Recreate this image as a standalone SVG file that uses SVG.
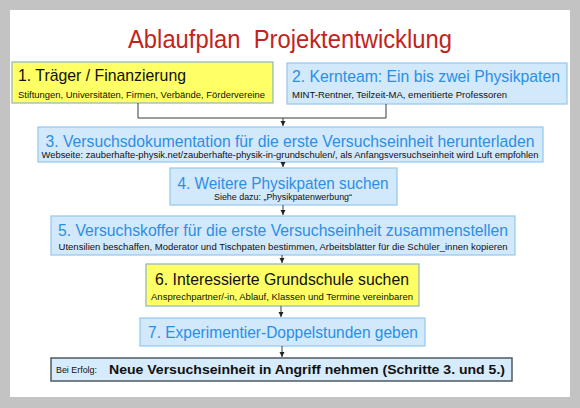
<svg xmlns="http://www.w3.org/2000/svg" width="580" height="408" viewBox="0 0 580 408">
<style>
text{font-family:"Liberation Sans",Arial,sans-serif}
.yb{fill:#ffff66;stroke:#8ab4c4;stroke-width:1.2}
.bb{fill:#d2e8fb;stroke:#93c6ef;stroke-width:1.2}
.tk{font-size:17px;fill:#111}
.tb{font-size:17px;fill:#2b8fe6}
.s{font-size:8.5px;fill:#111}
.c{text-anchor:middle}
.ln{fill:none;stroke:#3a3a3a;stroke-width:1}
</style>
<defs>
<marker id="ah" markerWidth="6" markerHeight="6" refX="5" refY="3" orient="auto" markerUnits="userSpaceOnUse">
<path d="M0,0.5 L5,3 L0,5.5 Z" fill="#222"/>
</marker>
</defs>
<rect x="0" y="0" width="580" height="408" fill="#c3c3c3"/>
<rect x="10" y="10" width="560" height="387" fill="#ffffff"/>
<text id="title" x="290" y="48" class="c" font-size="26" fill="#c4231b" style="white-space:pre" textLength="324" lengthAdjust="spacingAndGlyphs">Ablaufplan  Projektentwicklung</text>
<g id="n1">
<rect class="yb" x="12" y="62" width="261" height="41"/>
<text class="tk" x="18" y="81" textLength="168" lengthAdjust="spacingAndGlyphs">1. Träger / Finanzierung</text>
<text class="s" x="18" y="98" textLength="247" lengthAdjust="spacingAndGlyphs">Stiftungen, Universitäten, Firmen, Verbände, Fördervereine</text>
</g>
<g id="n2">
<rect class="bb" x="287" y="63" width="280" height="41"/>
<text class="tb" x="292" y="82" textLength="268" lengthAdjust="spacingAndGlyphs">2. Kernteam: Ein bis zwei Physikpaten</text>
<text class="s" x="292" y="98" textLength="215" lengthAdjust="spacingAndGlyphs">MINT-Rentner, Teilzeit-MA, emeritierte Professoren</text>
</g>
<g id="n3">
<rect class="bb" x="38" y="127" width="505" height="35"/>
<text class="tb c" x="290" y="147" textLength="489" lengthAdjust="spacingAndGlyphs">3. Versuchsdokumentation für die erste Versuchseinheit herunterladen</text>
<text class="s c" x="290" y="158" font-size="8" textLength="497" lengthAdjust="spacingAndGlyphs">Webseite: zauberhafte-physik.net/zauberhafte-physik-in-grundschulen/, als Anfangsversuchseinheit wird Luft empfohlen</text>
</g>
<g id="n4">
<rect class="bb" x="170" y="168" width="227" height="37"/>
<text class="tb c" x="283" y="189" textLength="211" lengthAdjust="spacingAndGlyphs">4. Weitere Physikpaten suchen</text>
<text class="s c" x="283" y="200" font-size="8" textLength="138" lengthAdjust="spacingAndGlyphs">Siehe dazu: „Physikpatenwerbung“</text>
</g>
<g id="n5">
<rect class="bb" x="51" y="216" width="464" height="39"/>
<text class="tb c" x="283" y="236" textLength="450" lengthAdjust="spacingAndGlyphs">5. Versuchskoffer für die erste Versuchseinheit zusammenstellen</text>
<text class="s c" x="283" y="250" textLength="449" lengthAdjust="spacingAndGlyphs">Utensilien beschaffen, Moderator und Tischpaten bestimmen, Arbeitsblätter für die Schüler_innen kopieren</text>
</g>
<g id="n6">
<rect class="yb" x="146" y="264" width="273" height="42"/>
<text class="tk c" x="282" y="285" textLength="254" lengthAdjust="spacingAndGlyphs">6. Interessierte Grundschule suchen</text>
<text class="s c" x="282" y="300" textLength="262" lengthAdjust="spacingAndGlyphs">Ansprechpartner/-in, Ablauf, Klassen und Termine vereinbaren</text>
</g>
<g id="n7">
<rect class="bb" x="140" y="318" width="285" height="28"/>
<text class="tb c" x="283" y="338" textLength="270" lengthAdjust="spacingAndGlyphs">7. Experimentier-Doppelstunden geben</text>
</g>
<g id="n8">
<rect x="51" y="358" width="461" height="23" fill="#d6ebfb" stroke="#505a60" stroke-width="1.5"/>
<text class="s" x="56" y="373" textLength="41" lengthAdjust="spacingAndGlyphs">Bei Erfolg:</text>
<text x="109" y="374" font-size="13" font-weight="bold" fill="#111" textLength="396" lengthAdjust="spacingAndGlyphs">Neue Versuchseinheit in Angriff nehmen (Schritte 3. und 5.)</text>
</g>
<g id="connectors">
<path class="ln" d="M138,103 V118 H386 V104"/>
<path class="ln" d="M283,118 V126" marker-end="url(#ah)"/>
<path class="ln" d="M283,162 V167" marker-end="url(#ah)"/>
<path class="ln" d="M283,205 V215" marker-end="url(#ah)"/>
<path class="ln" d="M282,255 V263" marker-end="url(#ah)"/>
<path class="ln" d="M281,306 V317" marker-end="url(#ah)"/>
<path class="ln" d="M282,346 V357" marker-end="url(#ah)"/>
</g>
</svg>
